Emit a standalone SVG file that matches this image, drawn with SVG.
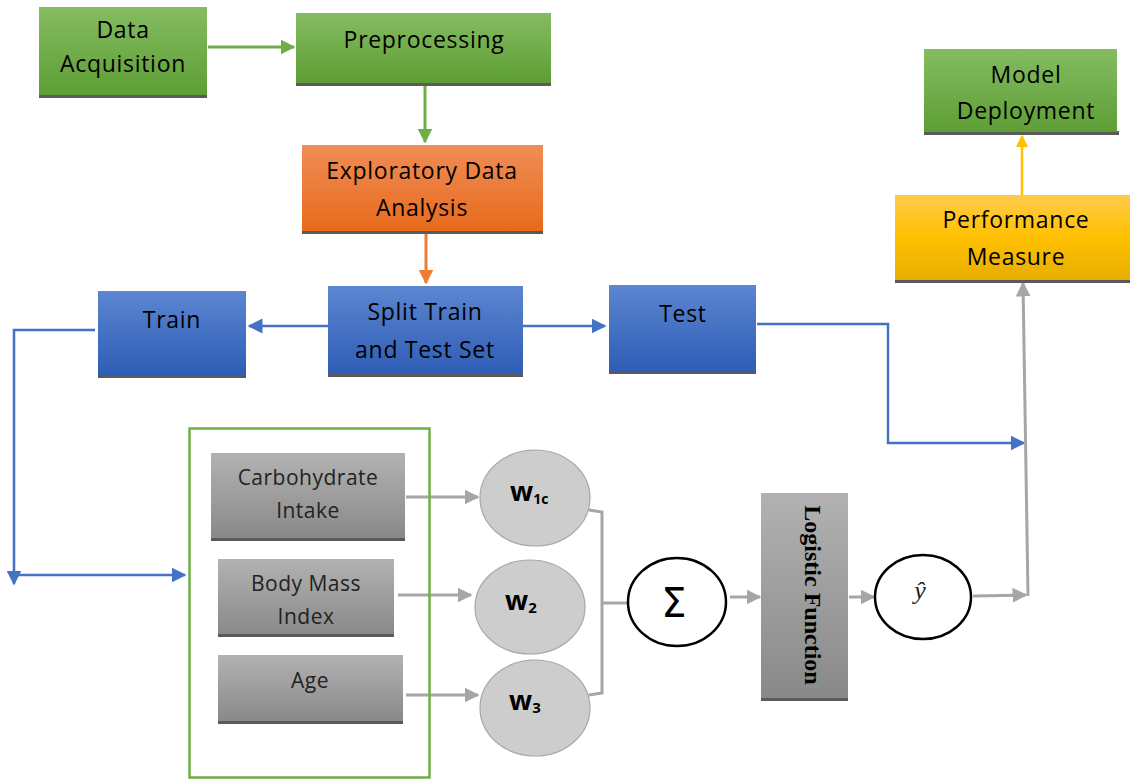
<svg xmlns="http://www.w3.org/2000/svg" width="1130" height="780" viewBox="0 0 1130 780">
<style>
.t{font-family:"Open Sans","Liberation Sans",sans-serif;font-size:23px;letter-spacing:0.7px;fill:#000;text-anchor:middle}
.ts{font-family:"Open Sans","Liberation Sans",sans-serif;font-size:21px;letter-spacing:0.5px;fill:#222;text-anchor:middle}
.sh{fill:#5a5a5a}
.g{stroke:#70AD47;stroke-width:3;fill:none}
.b{stroke:#4472C4;stroke-width:2.5;fill:none}
.o{stroke:#ED7D31;stroke-width:3;fill:none}
.y{stroke:#FFC000;stroke-width:2.5;fill:none}
.gr{stroke:#A6A6A6;stroke-width:3;fill:none}
.circ{fill:#CDCDCD;stroke:#A8A8A8;stroke-width:1.2}
.w{font-family:"Open Sans","Liberation Sans",sans-serif;font-weight:bold;font-size:27px;fill:#000}
</style>
<defs>
<linearGradient id="gG" x1="0" y1="0" x2="0" y2="1"><stop offset="0" stop-color="#85BC61"/><stop offset="1" stop-color="#5E9E35"/></linearGradient>
<linearGradient id="gO" x1="0" y1="0" x2="0" y2="1"><stop offset="0" stop-color="#F08D57"/><stop offset="1" stop-color="#E76A1C"/></linearGradient>
<linearGradient id="gB" x1="0" y1="0" x2="0" y2="1"><stop offset="0" stop-color="#5C86D0"/><stop offset="1" stop-color="#2E5DB6"/></linearGradient>
<linearGradient id="gY" x1="0" y1="0" x2="0" y2="1"><stop offset="0" stop-color="#FFCB4B"/><stop offset="0.5" stop-color="#FFC000"/><stop offset="1" stop-color="#E6AE00"/></linearGradient>
<linearGradient id="gK" x1="0" y1="0" x2="0" y2="1"><stop offset="0" stop-color="#B2B2B2"/><stop offset="1" stop-color="#898989"/></linearGradient>
<marker id="mG" viewBox="0 0 10 10" refX="9" refY="5" markerWidth="5" markerHeight="5" orient="auto" markerUnits="strokeWidth"><path d="M0,0L10,5L0,10z" fill="#70AD47"/></marker>
<marker id="mB" viewBox="0 0 10 10" refX="9" refY="5" markerWidth="6" markerHeight="6" orient="auto" markerUnits="strokeWidth"><path d="M0,0L10,5L0,10z" fill="#4472C4"/></marker>
<marker id="mO" viewBox="0 0 10 10" refX="9" refY="5" markerWidth="5" markerHeight="5" orient="auto" markerUnits="strokeWidth"><path d="M0,0L10,5L0,10z" fill="#ED7D31"/></marker>
<marker id="mY" viewBox="0 0 10 10" refX="9" refY="5" markerWidth="5" markerHeight="5" orient="auto" markerUnits="strokeWidth"><path d="M0,0L10,5L0,10z" fill="#FFC000"/></marker>
<marker id="mK" viewBox="0 0 10 10" refX="9" refY="5" markerWidth="5" markerHeight="5" orient="auto" markerUnits="strokeWidth"><path d="M0,0L10,5L0,10z" fill="#A6A6A6"/></marker>
</defs>
<rect width="1130" height="780" fill="#fff"/>

<g id="connectors">
<line class="g" x1="208" y1="47" x2="294" y2="47" marker-end="url(#mG)"/>
<line class="g" x1="425" y1="86" x2="425" y2="142" marker-end="url(#mG)"/>
<line class="o" x1="426" y1="233" x2="426" y2="283" marker-end="url(#mO)"/>
<line class="b" x1="328" y1="326" x2="249" y2="326" marker-end="url(#mB)"/>
<line class="b" x1="523" y1="326" x2="605" y2="326" marker-end="url(#mB)"/>
<polyline class="b" points="95,330 14,330 14,584" marker-end="url(#mB)"/>
<line class="b" x1="18" y1="575" x2="185" y2="575" marker-end="url(#mB)"/>
<polyline class="b" points="757,324 888,324 888,443 1024,443" marker-end="url(#mB)"/>
<line class="gr" x1="1028" y1="596" x2="1023" y2="283" marker-end="url(#mK)"/>
<line class="y" x1="1022" y1="195" x2="1022" y2="136" marker-end="url(#mY)"/>
<line class="gr" x1="406" y1="497" x2="478" y2="497" marker-end="url(#mK)"/>
<line class="gr" x1="398" y1="595" x2="471" y2="595" marker-end="url(#mK)"/>
<line class="gr" x1="406" y1="695" x2="478" y2="695" marker-end="url(#mK)"/>
<polyline class="gr" points="589,510 602,512 602,693 589,695"/>
<line class="gr" x1="602" y1="603" x2="628" y2="603"/>
<line class="gr" x1="730" y1="597" x2="760" y2="597" marker-end="url(#mK)"/>
<line class="gr" x1="849" y1="597" x2="874" y2="597" marker-end="url(#mK)"/>
<line class="gr" x1="973" y1="596" x2="1026" y2="595" marker-end="url(#mK)"/>
</g>

<g id="data-acquisition">
<rect class="sh" x="39" y="94" width="168" height="4"/>
<rect x="39" y="7" width="168" height="88" fill="url(#gG)"/>
<text class="t" x="123" y="38">Data</text>
<text class="t" x="123" y="72">Acquisition</text>
</g>
<g id="preprocessing">
<rect class="sh" x="296" y="82" width="255" height="4"/>
<rect x="296" y="13" width="255" height="70" fill="url(#gG)"/>
<text class="t" x="424" y="48">Preprocessing</text>
</g>
<g id="eda">
<rect class="sh" x="302" y="230" width="241" height="4"/>
<rect x="302" y="145" width="241" height="86" fill="url(#gO)"/>
<text class="t" x="422" y="179">Exploratory Data</text>
<text class="t" x="422" y="216">Analysis</text>
</g>
<g id="split">
<rect class="sh" x="328" y="373" width="195" height="4"/>
<rect x="328" y="286" width="195" height="88" fill="url(#gB)"/>
<text class="t" x="425" y="320">Split Train</text>
<text class="t" x="425" y="358">and Test Set</text>
</g>
<g id="train">
<rect class="sh" x="98" y="374" width="148" height="4"/>
<rect x="98" y="291" width="148" height="84" fill="url(#gB)"/>
<text class="t" x="172" y="328">Train</text>
</g>
<g id="test">
<rect class="sh" x="609" y="370" width="147" height="4"/>
<rect x="609" y="285" width="147" height="86" fill="url(#gB)"/>
<text class="t" x="683" y="322">Test</text>
</g>
<g id="performance">
<rect class="sh" x="895" y="279" width="235" height="4"/>
<rect x="895" y="195" width="235" height="85" fill="url(#gY)"/>
<text class="t" x="1016" y="228">Performance</text>
<text class="t" x="1016" y="265">Measure</text>
</g>
<g id="deployment">
<rect class="sh" x="924" y="131" width="195" height="4"/>
<rect x="924" y="49" width="193" height="83" fill="url(#gG)"/>
<text class="t" x="1026" y="83">Model</text>
<text class="t" x="1026" y="119">Deployment</text>
</g>

<g id="features">
<rect x="189.5" y="428.5" width="240" height="349" fill="none" stroke="#70AD47" stroke-width="2.5"/>
<g id="carb">
<rect class="sh" x="211" y="537" width="194" height="4"/>
<rect x="211" y="453" width="194" height="85" fill="url(#gK)"/>
<text class="ts" x="308" y="485">Carbohydrate</text>
<text class="ts" x="308" y="518">Intake</text>
</g>
<g id="bmi">
<rect class="sh" x="218" y="633" width="176" height="4"/>
<rect x="218" y="559" width="176" height="75" fill="url(#gK)"/>
<text class="ts" x="306" y="591">Body Mass</text>
<text class="ts" x="306" y="624">Index</text>
</g>
<g id="age">
<rect class="sh" x="218" y="720" width="185" height="4"/>
<rect x="218" y="655" width="185" height="66" fill="url(#gK)"/>
<text class="ts" x="310" y="688">Age</text>
</g>
</g>

<g id="w1c">
<ellipse class="circ" cx="535" cy="498" rx="55" ry="48"/>
<text class="w" x="510" y="501">w<tspan font-size="14" dy="3">1c</tspan></text>
</g>
<g id="w2">
<ellipse class="circ" cx="530" cy="607" rx="55" ry="47"/>
<text class="w" x="505" y="610">w<tspan font-size="15" dy="3">2</tspan></text>
</g>
<g id="w3">
<ellipse class="circ" cx="535" cy="708" rx="55" ry="48"/>
<text class="w" x="509" y="710">w<tspan font-size="15" dy="3">3</tspan></text>
</g>
<g id="sum">
<ellipse cx="677" cy="602" rx="49" ry="44" fill="#fff" stroke="#000" stroke-width="2.5"/>
<text x="674" y="617" font-family="'DejaVu Sans',sans-serif" font-size="40" text-anchor="middle" fill="#000">Σ</text>
</g>
<g id="logistic">
<rect class="sh" x="761" y="697" width="87" height="4"/>
<rect x="761" y="493" width="87" height="205" fill="url(#gK)"/>
<text transform="translate(805,595) rotate(90)" font-family="'Liberation Serif',serif" font-weight="bold" font-size="24" text-anchor="middle" fill="#000">Logistic Function</text>
</g>
<g id="yhat">
<ellipse cx="923" cy="597" rx="48" ry="42" fill="#fff" stroke="#000" stroke-width="2.5"/>
<text x="920" y="599" font-family="'Liberation Serif',serif" font-style="italic" font-size="26" text-anchor="middle" fill="#222">ŷ</text>
</g>
</svg>
